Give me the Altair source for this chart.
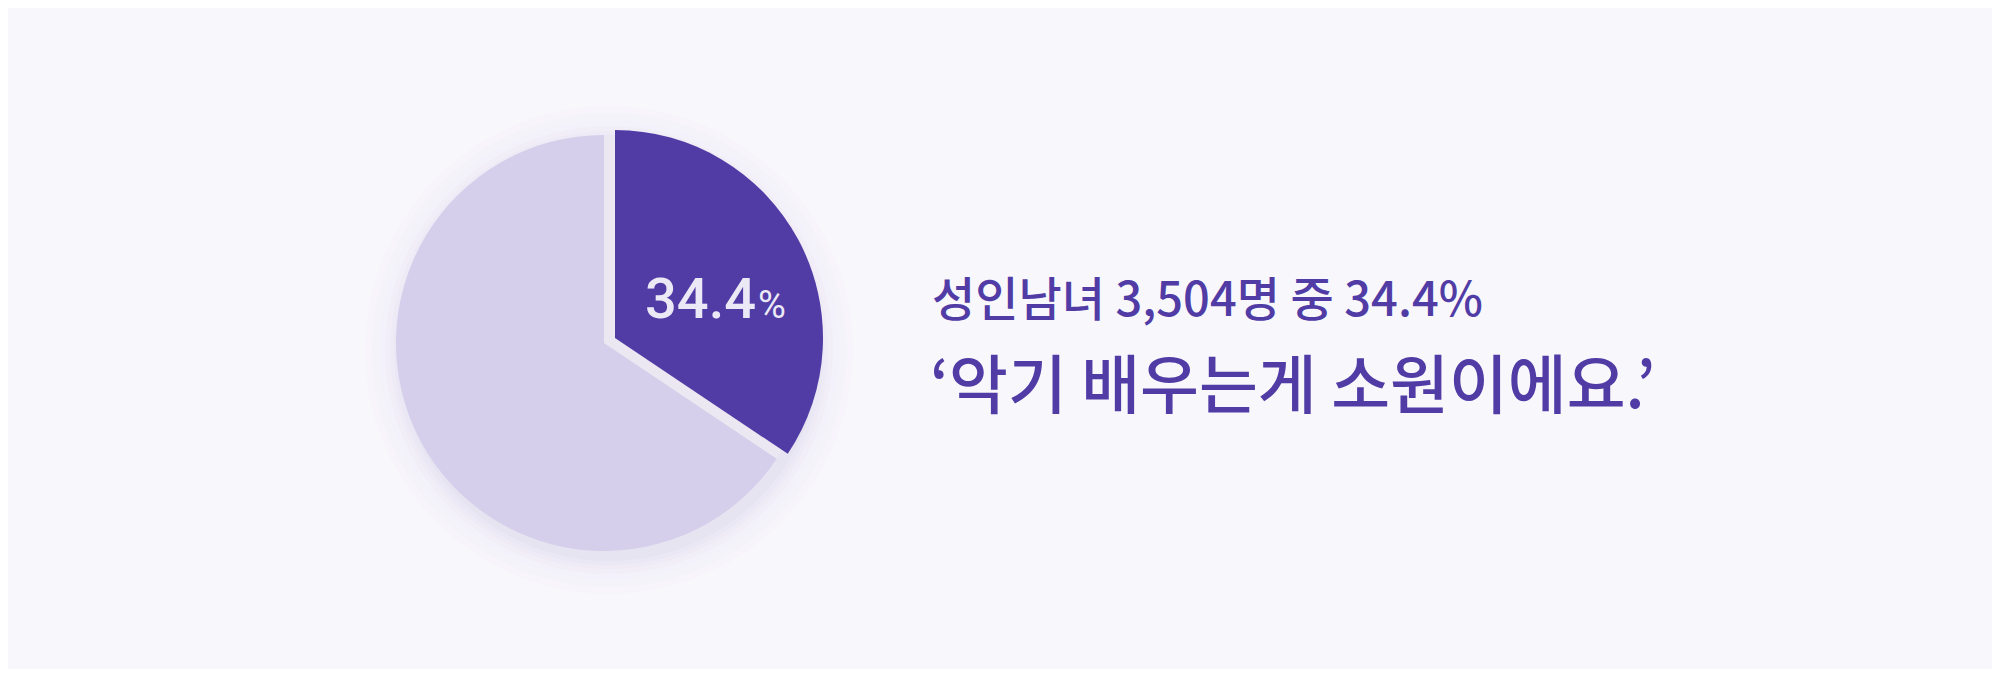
import altair as alt
import pandas as pd

categories = ["악기 배우는게 소원", "기타"]
values = [34.4, 65.6]
order = [0, 1]
headline = "성인남녀 3,504명 중 34.4%"
quote = "‘악기 배우는게 소원이에요.’"

DARK = "#513ca6"
LIGHT = "#d5cfeb"
BG = "#f8f7fc"

pie = pd.DataFrame({"cat": categories, "value": values, "order": order})

W, H = 1984, 661

def slice_layer(cx, cy, show):
    return alt.Chart(pie).mark_arc(radius=208).encode(
        theta=alt.Theta("value:Q", stack=True),
        order=alt.Order("order:Q"),
        color=alt.Color("cat:N", scale=alt.Scale(domain=categories, range=[DARK, LIGHT]), legend=None),
        opacity=alt.condition(alt.datum.cat == show, alt.value(1), alt.value(0)),
        x=alt.value(cx), y=alt.value(cy),
    )

# soft shadow rings
shadow_layers = []
for r, op in [(244, 0.02), (237, 0.025), (230, 0.03), (224, 0.035), (219, 0.04), (215, 0.05), (211, 0.06)]:
    shadow_layers.append(
        alt.Chart(pie).mark_arc(radius=r, color="#b9b2d6", opacity=op).encode(
            theta=alt.Theta("value:Q", stack=True),
            order=alt.Order("order:Q"),
            x=alt.value(601), y=alt.value(342),
        )
    )

gap = alt.Chart(pie).mark_arc(radius=205, color="#ebe8f2").encode(
    theta=alt.Theta("value:Q", stack=True),
    order=alt.Order("order:Q"),
    x=alt.value(601), y=alt.value(333),
)

light = slice_layer(596, 335, categories[1])
dark = slice_layer(607, 330, categories[0])

lab = pd.DataFrame({"num": [f"{values[0]:.1f}"], "pct": ["%"]})
num_text = alt.Chart(lab).mark_text(
    font="Roboto", fontSize=56, fontWeight=500, color="#ece9f6", align="left", baseline="alphabetic"
).encode(text="num:N", x=alt.value(637), y=alt.value(310))
pct_text = alt.Chart(lab).mark_text(
    font="Roboto", fontSize=38, fontWeight=400, color="#ece9f6", align="left", baseline="alphabetic"
).encode(text="pct:N", x=alt.value(750), y=alt.value(310))

txt = pd.DataFrame({"headline": [headline], "quote": [quote]})
line1 = alt.Chart(txt).mark_text(
    font="Noto Sans CJK KR", fontSize=47, fontWeight=500, color=DARK, align="left", baseline="alphabetic"
).encode(text="headline:N", x=alt.value(924), y=alt.value(308))
line2 = alt.Chart(txt).mark_text(
    font="Noto Sans CJK KR", fontSize=64, fontWeight=500, color=DARK, align="left", baseline="alphabetic"
).encode(text="quote:N", x=alt.value(922), y=alt.value(400))

chart = alt.layer(*shadow_layers, gap, light, dark, num_text, pct_text, line1, line2).properties(
    width=W, height=H, autosize=alt.AutoSizeParams(type="none"), padding=0, background=BG
).configure_view(stroke=None)

chart.save("out.html", embed_options={"renderer": "svg", "actions": False})
